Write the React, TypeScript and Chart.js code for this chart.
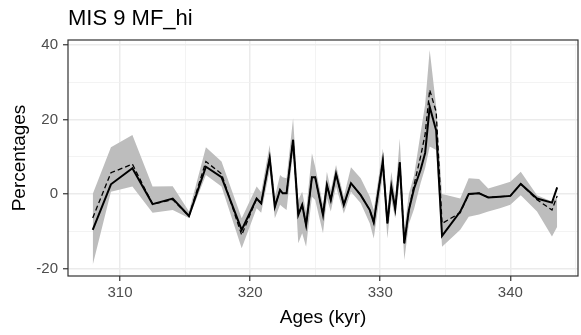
import { useEffect, useRef } from 'react';
import { Chart, registerables } from 'chart.js';
Chart.register(...registerables);

const ages = [307.9, 309.3, 310.95, 312.5, 314.05, 315.3, 316.6, 317.8, 319.35, 320.5, 320.85, 321.5, 321.9, 322.3, 322.5, 322.8, 323.3, 323.7, 324.0, 324.3, 324.75, 325.0, 325.6, 325.9, 326.2, 326.6, 327.2, 327.75, 328.5, 329.2, 329.5, 330.2, 330.55, 330.85, 331.15, 331.5, 331.85, 332.2, 332.6, 333.1, 333.45, 333.8, 334.3, 334.75, 336.15, 336.8, 337.6, 338.3, 339.2, 340.0, 340.8, 342.05, 343.2, 343.6];
const meanValues = [-9.6, 2.6, 6.9, -2.7, -1.2, -5.9, 7.3, 4.5, -9.6, -1.2, -2.5, 9.6, -3.4, 1.1, 0.2, 0.2, 14.5, -5.6, -2.9, -8.3, 4.5, 4.5, -5.6, 2.4, -1.6, 5.4, -2.9, 2.9, -0.3, -4.3, -7.6, 8.8, -7.9, 2.0, -4.0, 8.5, -13.2, -4.3, 1.5, 6.5, 11.0, 23.4, 17.0, -11.2, -4.7, 0.0, 0.2, -0.9, -0.7, -0.5, 2.7, -1.2, -2.3, 1.8];
const dashedValues = [-6.4, 5.7, 8.0, -2.7, -1.5, -5.9, 8.7, 5.4, -11.0, -1.2, -2.5, 9.6, -3.4, 1.1, 0.2, 0.2, 14.5, -5.6, -2.9, -8.3, 4.5, 4.5, -5.6, 2.4, -1.6, 5.4, -2.9, 2.9, -0.3, -4.3, -7.6, 8.8, -7.9, 2.0, -4.0, 8.5, -13.2, -4.3, 2.5, 10.0, 16.0, 27.9, 22.0, -7.9, -5.0, 0.0, 0.2, -0.9, -0.7, -0.5, 2.7, -1.5, -4.3, -0.5];
const lowerValues = [-19.0, 0.6, 2.0, -5.0, -4.3, -6.4, 5.1, 2.0, -14.5, -3.8, -5.0, 6.4, -6.5, -2.9, -3.5, -4.3, 11.3, -13.2, -10.5, -14.1, -0.7, -1.6, -10.5, -1.2, -4.7, 2.0, -5.2, 0.6, -2.5, -7.9, -11.9, 5.1, -11.9, -1.6, -6.5, 3.7, -17.7, -8.0, -4.0, 2.9, 7.0, 12.7, 11.8, -14.1, -9.6, -6.1, -5.5, -4.7, -3.8, -2.9, -0.3, -4.7, -11.4, -8.8];
const upperValues = [0.0, 12.5, 15.8, 2.0, 2.1, -4.7, 12.5, 8.7, -6.5, 2.0, 0.5, 13.1, -0.7, 5.1, 4.5, 4.2, 20.3, -1.6, 0.6, -4.7, 10.9, 7.3, -2.9, 6.0, 1.1, 7.8, -0.7, 7.2, 4.2, -0.7, -4.3, 12.2, -4.3, 6.0, -0.7, 14.9, -9.6, 0.0, 5.0, 16.3, 24.0, 38.6, 23.4, 0.0, -1.2, 4.2, 4.0, 1.5, 2.4, 3.3, 6.0, -0.3, -2.0, -0.7];
const xTicks = [310, 315, 320, 325, 330, 335, 340, 345];
const yTicks = [-20, -10, 0, 10, 20, 30, 40];

const FONT = '"Liberation Sans", Arial, sans-serif';

export default function App() {
  const ref = useRef<HTMLCanvasElement>(null);
  useEffect(() => {
    if (!ref.current) return;
    const pts = (vals: number[]) => ages.map((a, i) => ({ x: a, y: vals[i] }));
    const deco = {
      id: 'deco',
      afterDatasetsDraw(chart: any) {
        const ctx = chart.ctx;
        const a = chart.chartArea;
        ctx.save();
        ctx.strokeStyle = '#333333';
        ctx.lineWidth = 1.2;
        ctx.strokeRect(a.left, a.top, a.right - a.left, a.bottom - a.top);
        ctx.restore();
      },
      afterDraw(chart: any) {
        const ctx = chart.ctx;
        const a = chart.chartArea;
        ctx.save();
        ctx.fillStyle = '#000000';
        ctx.textBaseline = 'alphabetic';
        ctx.font = `22px ${FONT}`;
        ctx.textAlign = 'left';
        ctx.fillText('MIS 9 MF_hi', a.left, 25);
        ctx.font = `19px ${FONT}`;
        ctx.textAlign = 'center';
        ctx.fillText('Ages (kyr)', (a.left + a.right) / 2, 322.5);
        ctx.translate(25, (a.top + a.bottom) / 2);
        ctx.rotate(-Math.PI / 2);
        ctx.fillText('Percentages', 0, 0);
        ctx.restore();
      },
    };
    const chart = new Chart(ref.current, {
      type: 'line',
      data: {
        datasets: [
          { data: pts(lowerValues), borderWidth: 0, pointRadius: 0, fill: false, order: 3, borderColor: 'rgba(0,0,0,0)' },
          { data: pts(upperValues), borderWidth: 0, pointRadius: 0, fill: '-1', order: 2, borderColor: 'rgba(0,0,0,0)', backgroundColor: '#bdbdbd' },
          { data: pts(dashedValues), borderWidth: 1.3, borderDash: [5, 3], pointRadius: 0, fill: false, order: 1, borderColor: '#000000' },
          { data: pts(meanValues), borderWidth: 2, pointRadius: 0, fill: false, order: 0, borderColor: '#000000' },
        ],
      },
      options: {
        animation: false,
        responsive: false,
        devicePixelRatio: 1,
        layout: { padding: { left: 0, right: 3, top: 40, bottom: 0 } },
        plugins: { legend: { display: false }, tooltip: { enabled: false }, title: { display: false } },
        elements: { line: { tension: 0 } },
        scales: {
          x: {
            type: 'linear',
            min: 306,
            max: 345.2,
            afterBuildTicks: (axis: any) => { axis.ticks = xTicks.map((v) => ({ value: v })); },
            afterFit: (axis: any) => { axis.height = 59; },
            border: { display: false },
            grid: {
              color: (c: any) => (c.tick && c.tick.value % 10 === 0 ? '#ebebeb' : '#f0f0f0'),
              lineWidth: (c: any) => (c.tick && c.tick.value % 10 === 0 ? 1.5 : 0.8),
              tickColor: (c: any) => (c.tick && c.tick.value % 10 === 0 ? '#333333' : 'rgba(0,0,0,0)'),
              tickWidth: 1.2,
              tickLength: 5,
            },
            ticks: {
              autoSkip: false,
              maxRotation: 0,
              padding: 3,
              color: '#4d4d4d',
              font: { family: FONT, size: 15 },
              callback: (v: any) => (Number(v) % 10 === 0 ? String(v) : ''),
            },
          },
          y: {
            type: 'linear',
            min: -21.96,
            max: 41.26,
            afterBuildTicks: (axis: any) => { axis.ticks = yTicks.map((v) => ({ value: v })); },
            afterFit: (axis: any) => { axis.width = 68; },
            border: { display: false },
            grid: {
              color: (c: any) => (c.tick && c.tick.value % 20 === 0 ? '#ebebeb' : '#f0f0f0'),
              lineWidth: (c: any) => (c.tick && c.tick.value % 20 === 0 ? 1.5 : 0.8),
              tickColor: (c: any) => (c.tick && c.tick.value % 20 === 0 ? '#333333' : 'rgba(0,0,0,0)'),
              tickWidth: 1.2,
              tickLength: 5,
            },
            ticks: {
              autoSkip: false,
              padding: 5,
              color: '#4d4d4d',
              font: { family: FONT, size: 15 },
              callback: (v: any) => (Number(v) % 20 === 0 ? String(v) : ''),
            },
          },
        },
      },
      plugins: [deco],
    });
    return () => chart.destroy();
  }, []);
  return (
    <div style={{ position: 'fixed', left: 0, top: 0, width: 581, height: 335, background: '#ffffff' }}>
      <canvas ref={ref} width={581} height={335} style={{ width: 581, height: 335, display: 'block' }} />
    </div>
  );
}
